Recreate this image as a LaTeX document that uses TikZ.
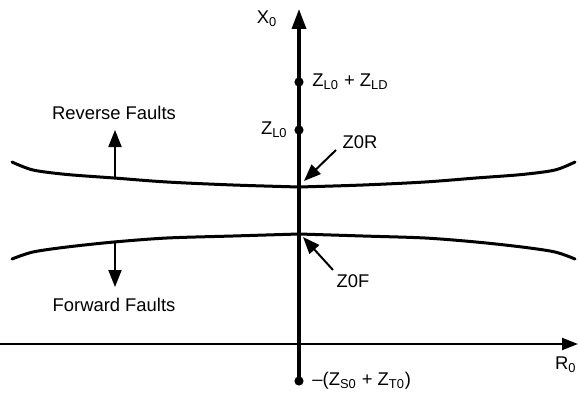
\documentclass[tikz,border=0pt]{standalone}
\usepackage{fontspec}
\setmainfont{Liberation Sans}
\usetikzlibrary{arrows.meta, positioning}
\tikzset{
  dotnode/.style={circle, fill=black, inner sep=0pt, minimum size=4.6pt},
  lbl/.style={font=\fontsize{9.2}{10}\selectfont, inner sep=1pt},
  zoneline/.style={line width=1.5pt, line cap=round},
  dirarrow/.style={-{Triangle[length=8.5pt,width=6.5pt]}, line width=1pt},
}

\begin{document}
\begin{tikzpicture}[x=0.5pt, y=0.5pt]
  \useasboundingbox (0,0) rectangle (579,392);
  % Axes
  \coordinate (rleft) at (0,48);
  \coordinate (rright) at (578,48);
  \coordinate (xtop) at (299,383);
  \node[dotnode] (zst) at (299,11) {};
  \node[dotnode] (zl) at (299,262) {};
  \node[dotnode] (zld) at (299,310) {};
  \draw[line width=1pt, -{Triangle[length=8pt,width=6pt]}] (rleft) -- (rright);
  \draw[line width=1.75pt, -{Triangle[length=10pt,width=7pt]}] (zst.center) -- (xtop);
  \node[lbl] (xlbl) at (267,373) {X\textsubscript{0}};
  \node[lbl, anchor=east] (rlbl) at (579,27) {R\textsubscript{0}};
  % Impedance points
  \node[lbl, right=3pt of zld] (zldlbl) {Z\textsubscript{L0} + Z\textsubscript{LD}};
  \node[lbl, left=2pt of zl] (zllbl) {Z\textsubscript{L0}};
  \node[lbl, right=3pt of zst] (zstlbl) {--(Z\textsubscript{S0} + Z\textsubscript{T0})};
  % Reverse boundary (Z0R)
  \draw[zoneline] plot[smooth] coordinates {(12,230) (33,222) (67,217.5) (114,214) (167,210) (233,207) (299,205)};
  \draw[zoneline] plot[smooth] coordinates {(299,205) (363,207) (425,210) (476,214) (522,217.5) (555,222) (575,230)};
  % Forward boundary (Z0F)
  \draw[zoneline] plot[smooth] coordinates {(12,133) (33,140) (67,145) (114,150) (167,154) (233,156) (299,158)};
  \draw[zoneline] plot[smooth] coordinates {(299,158) (363,156) (425,154) (476,150) (522,145) (555,140) (575,133)};
  % Fault directions
  \coordinate (revbase) at (115,214);
  \coordinate (revtip) at (115,262);
  \node[lbl] (revlbl) at (114,279) {Reverse Faults};
  \draw[dirarrow] (revbase) -- (revtip);
  \coordinate (fwdbase) at (115,150);
  \coordinate (fwdtip) at (115,105);
  \node[lbl] (fwdlbl) at (114,87) {Forward Faults};
  \draw[dirarrow] (fwdbase) -- (fwdtip);
  % Thresholds
  \node[lbl] (zor) at (360,250) {Z0R};
  \coordinate (zortail) at (336,242);
  \coordinate (zortip) at (304,211);
  \draw[dirarrow] (zortail) -- (zortip);
  \node[lbl] (zof) at (353,111) {Z0F};
  \coordinate (zoftail) at (333,122);
  \coordinate (zoftip) at (303,155);
  \draw[dirarrow] (zoftail) -- (zoftip);
\end{tikzpicture}
\end{document}
